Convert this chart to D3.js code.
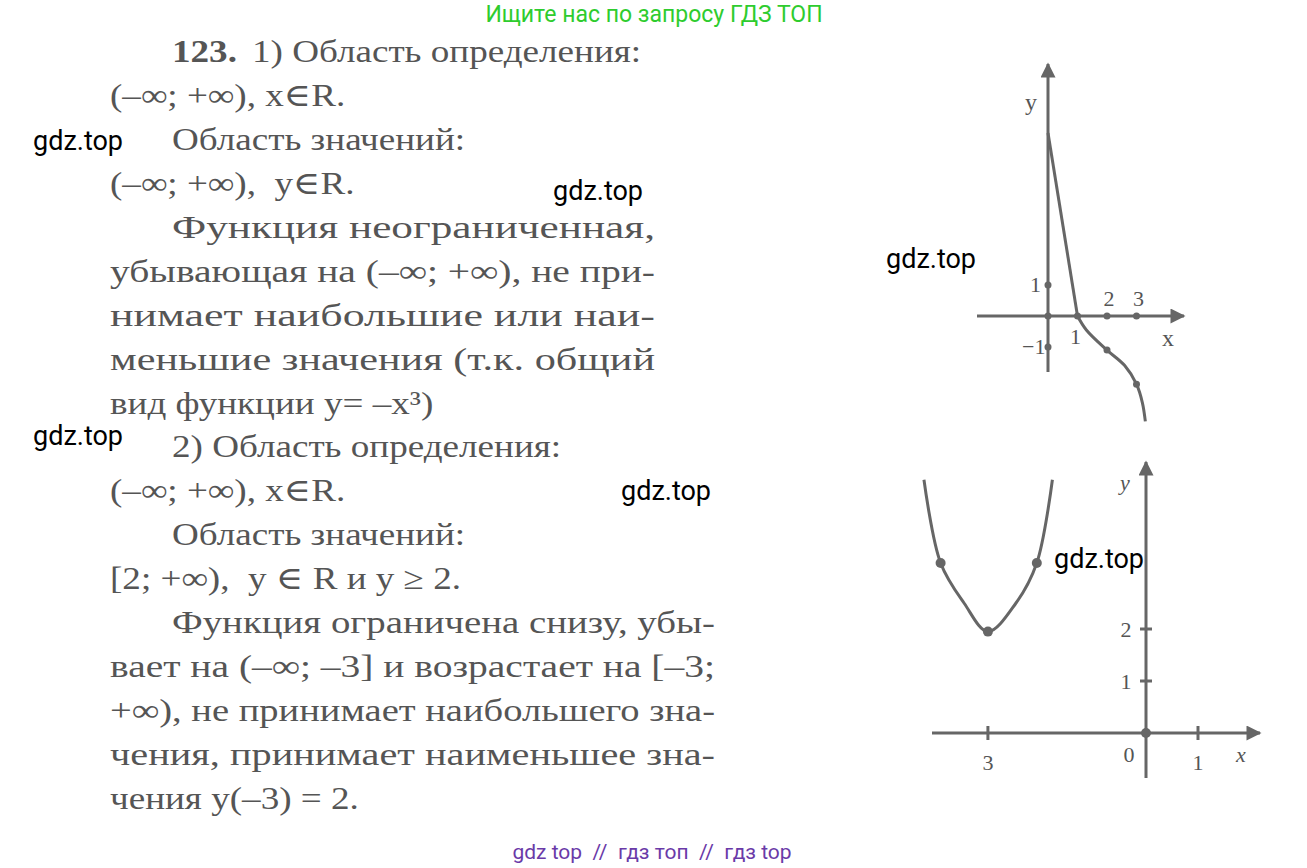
<!DOCTYPE html>
<html><head><meta charset="utf-8">
<script src="https://cdn.jsdelivr.net/npm/d3@7"></script>
<style>body{margin:0;background:#fff}svg{display:block}text{white-space:pre}</style>
</head><body>
<script>
// ---- data ----
const textLines = [
 {t:"1) Область определения:", x:252, y:62, bold:"123.", bx:172},
 {t:"(–∞; +∞), x∈R.", x:110, y:106},
 {t:"Область значений:", x:172, y:150},
 {t:"(–∞; +∞),  y∈R.", x:110, y:194},
 {t:"Функция неограниченная,", x:172, y:238, j:655},
 {t:"убывающая на (–∞; +∞), не при-", x:110, y:282, j:655},
 {t:"нимает наибольшие или наи-", x:110, y:326, j:655},
 {t:"меньшие значения (т.к. общий", x:110, y:370, j:655},
 {t:"вид функции y= –x³)", x:110, y:414},
 {t:"2) Область определения:", x:172, y:457},
 {t:"(–∞; +∞), x∈R.", x:110, y:501},
 {t:"Область значений:", x:172, y:545},
 {t:"[2; +∞),  y ∈ R и y ≥ 2.", x:110, y:589},
 {t:"Функция ограничена снизу, убы-", x:172, y:633, j:715},
 {t:"вает на (–∞; –3] и возрастает на [–3;", x:110, y:677, j:715},
 {t:"+∞), не принимает наибольшего зна-", x:110, y:721, j:715},
 {t:"чения, принимает наименьшее зна-", x:110, y:765, j:715},
 {t:"чения y(–3) = 2.", x:110, y:809}
];
const watermarks = [[33,150],[553,200],[886,268],[33,445],[621,500],[1054,568]];
// graph 1: y = -x^3 style sketch
const g1Line = [[0,5.9],[1,0]];
const g1Curve = [[1,0],[1.3,-0.45],[2,-1.1],[2.6,-1.6],[3,-2.2],[3.2,-2.8],[3.3,-3.4]];
const g1Dots = [[0,0],[1,0],[2,0],[3,0],[0,1],[0,-1],[2,-1.1],[3,-2.2]];
const g1XTicks = [{v:1,l:"1",dx:-2,dy:28},{v:2,l:"2",dx:2,dy:-10},{v:3,l:"3",dx:2,dy:-10}];
const g1YTicks = [{v:1,l:"1",dx:-18},{v:-1,l:"−1",dx:-26}];
// graph 2: parabola with vertex (-3, 2)
const g2Curve = [[-4.27,4.87],[-3.95,3.27],[-3.5,2.5],[-3.04,1.95],[-2.5,2.5],[-2.1,3.27],[-1.8,4.87]];
const g2Dots = [[-3.95,3.27],[-3.04,1.95],[-2.1,3.27],[0,0]];
const g2XTicks = [{v:-3.04,l:"3"},{v:1,l:"1"}];
const g2YTicks = [{v:1,l:"1"},{v:2,l:"2"}];

const W=1307,H=868, ink="#555", gray="#666";
const svg=d3.select("body").append("svg").attr("width",W).attr("height",H);
const serif="'Liberation Serif','DejaVu Serif',serif";

svg.append("text").attr("x",654).attr("y",22).attr("text-anchor","middle")
 .attr("font-family","Roboto").attr("font-size",23).attr("fill","#2ecc2e").text("Ищите нас по запросу ГДЗ ТОП");
svg.append("text").attr("x",652).attr("y",859).attr("text-anchor","middle")
 .attr("font-family","Roboto").attr("font-size",21).attr("fill","#6a3aa8").text("gdz top  //  гдз топ  //  гдз top");

const SX=1.16;
textLines.forEach(d=>{
  if(d.bold) svg.append("text").attr("transform",`translate(${d.bx},${d.y}) scale(${SX},1)`).attr("font-family",serif)
     .attr("font-size",32).attr("font-weight","bold").attr("fill",ink).text(d.bold);
  if(d.j){
    svg.append("text").attr("x",d.x).attr("y",d.y).attr("font-family",serif)
     .attr("font-size",32).attr("fill",ink).text(d.t)
     .attr("textLength",d.j-d.x).attr("lengthAdjust","spacingAndGlyphs");
  } else {
    svg.append("text").attr("transform",`translate(${d.x},${d.y}) scale(${SX},1)`).attr("font-family",serif)
     .attr("font-size",32).attr("fill",ink).text(d.t);
  }
});

const defs=svg.append("defs");
defs.append("marker").attr("id","arr").attr("viewBox","0 0 10 10").attr("refX",9).attr("refY",5)
 .attr("markerWidth",6).attr("markerHeight",5).attr("markerUnits","strokeWidth").attr("orient","auto")
 .append("path").attr("d","M0,0L10,5L0,10Z").attr("fill",gray);

function graph(o){
  const x=d3.scaleLinear().domain([0,1]).range([o.ox,o.ox+o.ux]);
  const y=d3.scaleLinear().domain([0,1]).range([o.oy,o.oy-o.uy]);
  const g=svg.append("g");
  g.append("line").attr("x1",o.xa[0]).attr("x2",o.xa[1]).attr("y1",o.oy).attr("y2",o.oy)
   .attr("stroke",gray).attr("stroke-width",3).attr("marker-end","url(#arr)");
  g.append("line").attr("x1",o.ox).attr("x2",o.ox).attr("y1",o.ya[0]).attr("y2",o.ya[1])
   .attr("stroke",gray).attr("stroke-width",3).attr("marker-end","url(#arr)");
  const line=d3.line().x(d=>x(d[0])).y(d=>y(d[1]));
  o.paths.forEach(p=>g.append("path").attr("d",line.curve(p.c)(p.d)).attr("fill","none")
     .attr("stroke",gray).attr("stroke-width",3));
  g.selectAll(null).data(o.dots).join("circle").attr("cx",d=>x(d[0])).attr("cy",d=>y(d[1]))
   .attr("r",o.r).attr("fill",gray);
  return {x,y,g};
}
const lbl=(x,y,t,s,it,anchor)=>svg.append("text").attr("x",x).attr("y",y).attr("font-family",serif)
  .attr("font-size",s).attr("font-style",it?"italic":"normal").attr("text-anchor",anchor||"start").attr("fill",ink).text(t);

const G1=graph({ox:1048,oy:316,ux:29.5,uy:31,xa:[977,1184],ya:[372,64],r:3.5,
  paths:[{d:g1Line,c:d3.curveLinear},{d:g1Curve,c:d3.curveCatmullRom}],dots:g1Dots});
lbl(1025,110,"y",24);
g1XTicks.forEach(t=>lbl(G1.x(t.v)+t.dx,316+t.dy,t.l,22,false,"middle"));
g1YTicks.forEach(t=>lbl(1048+t.dx,G1.y(t.v)+7,t.l,22));
lbl(1162,346,"x",24);

const G2=graph({ox:1146,oy:733,ux:52,uy:52,xa:[932,1260],ya:[778,462],r:5,
  paths:[{d:g2Curve,c:d3.curveCatmullRom}],dots:g2Dots});
g2XTicks.forEach(t=>{G2.g.append("line").attr("x1",G2.x(t.v)).attr("x2",G2.x(t.v)).attr("y1",726).attr("y2",740).attr("stroke",gray).attr("stroke-width",3);
  lbl(G2.x(t.v),770,t.l,22,false,"middle");});
g2YTicks.forEach(t=>{G2.g.append("line").attr("x1",1140).attr("x2",1152).attr("y1",G2.y(t.v)).attr("y2",G2.y(t.v)).attr("stroke",gray).attr("stroke-width",3);
  lbl(1126,G2.y(t.v)+8,t.l,22,false,"middle");});
lbl(1129,762,"0",22,false,"middle");
lbl(1120,490,"y",22,true);
lbl(1236,762,"x",22,true);

watermarks.forEach(w=>svg.append("text").attr("x",w[0]).attr("y",w[1]).attr("font-family","Roboto")
  .attr("font-size",27).attr("fill","#000").text("gdz.top"));
</script>
</body></html>
